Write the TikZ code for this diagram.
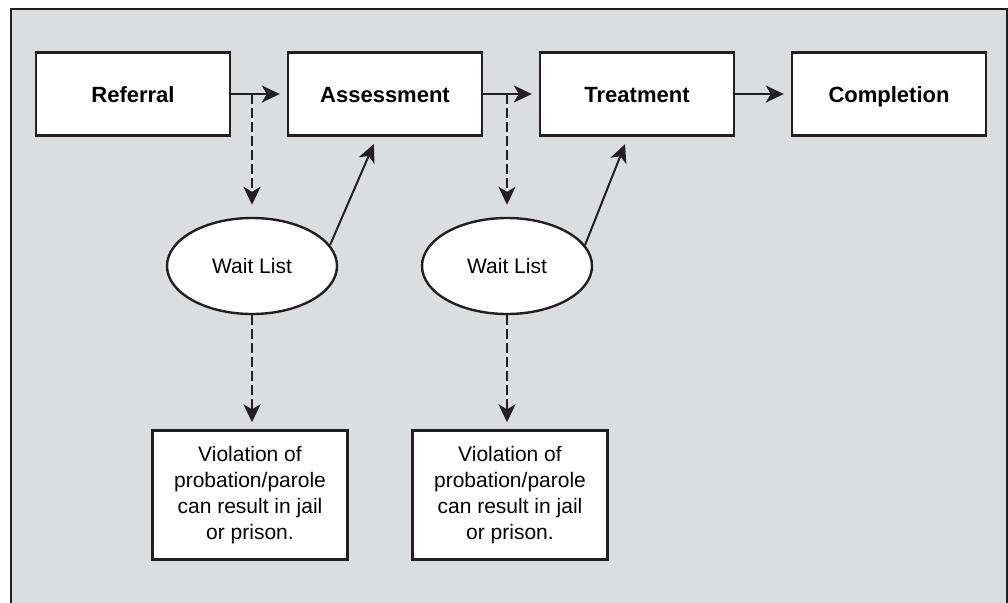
\documentclass[tikz,border=0pt]{standalone}
\usepackage{fontspec}
\setmainfont{Liberation Sans}
\usetikzlibrary{arrows.meta}
\usetikzlibrary{shapes.geometric}
\definecolor{panel}{RGB}{220,221,223}
\definecolor{ink}{RGB}{35,31,32}

\begin{document}
\begin{tikzpicture}[x=1pt,y=-1pt,
  stage/.style={draw=ink,fill=white,line width=2.4pt,minimum width=194pt,minimum height=83pt,inner sep=0pt,text height=16pt,text depth=0pt,font=\fontsize{22}{26}\selectfont\bfseries},
  wait/.style={draw=ink,fill=white,ellipse,line width=2.4pt,minimum width=170pt,minimum height=96pt,inner sep=0pt,font=\fontsize{21}{26}\selectfont},
  note/.style={draw=ink,fill=white,line width=2.4pt,minimum width=195pt,minimum height=129pt,inner sep=0pt,align=center,font=\fontsize{21}{26}\selectfont},
  flow/.style={draw=ink,line width=2pt,-{Stealth[length=18pt,width=17pt,inset=5pt]}},
  maybe/.style={flow,dash pattern=on 10pt off 4pt,preaction={draw=white,line width=0.8pt,solid,-}}]
\useasboundingbox (0,0) rectangle (1008,602);
\draw[fill=panel,draw=ink,line width=2pt] (11,9) rectangle (1007,640);
% main path
\node[stage] (ref) at (133,94) {Referral};
\node[stage] (asm) at (385,94) {Assessment};
\node[stage] (trt) at (637,94) {Treatment};
\node[stage] (cmp) at (889,94) {Completion};
% waiting
\node[wait] (wl1) at (252,266) {Wait List};
\node[wait] (wl2) at (507,266) {Wait List};
\node[note] (vio1) at (250,495) {Violation of\\probation/parole\\can result in jail\\or prison.};
\node[note] (vio2) at (510,495) {Violation of\\probation/parole\\can result in jail\\or prison.};
\draw[flow,shorten >=7pt] (ref) -- (asm);
\draw[flow,shorten >=7pt] (asm) -- (trt);
\draw[flow,shorten >=7pt] (trt) -- (cmp);
\draw[maybe,shorten >=12pt] (wl1.north |- ref.east) -- (wl1.north);
\draw[maybe,shorten >=12pt] (wl2.north |- asm.east) -- (wl2.north);
\draw[flow,shorten >=8pt] (wl1.15) -- ([xshift=-8pt]asm.south);
\draw[flow,shorten >=8pt] (wl2.15) -- ([xshift=-9pt]trt.south);
\draw[maybe,shorten >=7pt] (wl1.south) -- (wl1.south |- vio1.north);
\draw[maybe,shorten >=7pt] (wl2.south) -- (wl2.south |- vio2.north);
\end{tikzpicture}
\end{document}
